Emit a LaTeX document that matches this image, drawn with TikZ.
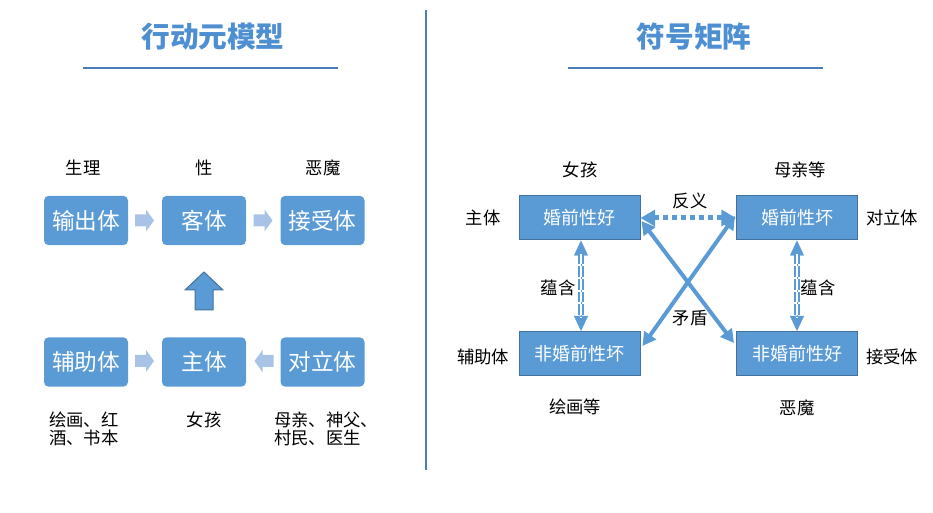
\documentclass[tikz,border=0pt]{standalone}
\usepackage{fontspec}
\setmainfont{Noto Sans CJK SC}
\usetikzlibrary{arrows.meta,calc}
\definecolor{boxblue}{HTML}{5B9BD5}
\definecolor{edgeblue}{HTML}{41719C}
\definecolor{paleblue}{HTML}{A9C3E7}
\definecolor{lineblue}{HTML}{4A7EBB}
\definecolor{titleblue}{HTML}{4E8FD2}
\begin{document}
\begin{tikzpicture}[x=0.75pt,y=-0.75pt,
  lbox/.style={rounded corners=3.5pt, fill=boxblue, text=white, minimum width=63pt, minimum height=37pt, inner sep=0pt, font=\fontsize{17}{17}\selectfont},
  rbox/.style={fill=boxblue, draw=edgeblue, line width=0.75pt, text=white, minimum width=90.75pt, minimum height=33pt, inner sep=0pt, font=\fontsize{13.5}{13.5}\selectfont},
  lbl/.style={inner sep=0pt, font=\fontsize{13}{13}\selectfont},
  lbltwo/.style={inner sep=0pt, align=left, font=\fontsize{13}{13.5}\selectfont},
  ttl/.style={inner sep=0pt, text=titleblue, font=\fontsize{21.5}{21.5}\selectfont\bfseries},
  rule/.style={draw=lineblue, line width=0.8pt},
  paleright/.pic={\fill[paleblue] (-10,-6) -- (1,-6) -- (1,-11) -- (9,0) -- (1,11) -- (1,6) -- (-10,6) -- cycle;},
  dotarrow/.style={draw=boxblue, line width=3.75pt, dash pattern=on 3.75pt off 3pt, {Triangle[length=11pt,width=12pt]}-{Triangle[length=11pt,width=12pt]}},
  diagarrow/.style={draw=boxblue, line width=3pt, {Triangle[length=10pt,width=10.5pt]}-{Triangle[length=10pt,width=10.5pt]}},
  tiponly/.style={draw=boxblue, line width=0.2pt, {Triangle[length=11.25pt 0 0,width=10.5pt 0 0]}-{Triangle[length=11.25pt 0 0,width=10.5pt 0 0]}},
  dblline/.style={draw=boxblue, line width=1.1pt, double=white, double distance=2pt, dash pattern=on 8pt off 1.5pt, shorten <=10pt, shorten >=10pt}
]
\useasboundingbox (0,0) rectangle (933,513);

% ---------- left panel ----------
\node[ttl] (t1) at (213,37) {行动元模型};
\coordinate (t1a) at (83,68);
\coordinate (t1b) at (338,68);
\draw[rule] (t1a) -- (t1b);

\node[lbox] (out) at (86,220.5) {输出体};
\node[lbox] (obj) at (204,220.5) {客体};
\node[lbox] (rec) at (322.5,220.5) {接受体};
\node[lbox] (aux) at (86,362) {辅助体};
\node[lbox] (sub) at (204,362) {主体};
\node[lbox] (opp) at (322.5,362) {对立体};

\pic at (145,220.5) {paleright};
\pic at (263.5,220.5) {paleright};
\pic at (145,361) {paleright};
\pic[xscale=-1] at (263.5,361) {paleright};

\filldraw[fill=boxblue, draw=edgeblue, line width=0.75pt]
  (195,310) -- (195,290) -- (185,290) -- (204,272) -- (223,290) -- (213,290) -- (213,310) -- cycle;

\node[lbl] (l1) at (83,168) {生理};
\node[lbl] (l2) at (204,168) {性};
\node[lbl] (l3) at (323,168) {恶魔};
\node[lbltwo] (l4) at (84,429) {绘画、红\\酒、书本};
\node[lbl] (l5) at (204,420) {女孩};
\node[lbltwo] (l6) at (326,429) {母亲、神父、\\村民、医生};

% separator
\coordinate (sepa) at (426,10);
\coordinate (sepb) at (426,470);
\draw[rule] (sepa) -- (sepb);

% ---------- right panel ----------
\node[ttl] (t2) at (694,37) {符号矩阵};
\coordinate (t2a) at (568,68);
\coordinate (t2b) at (823,68);
\draw[rule] (t2a) -- (t2b);

\node[rbox] (g1) at (579.5,218) {婚前性好};
\node[rbox] (b1) at (797,218) {婚前性坏};
\node[rbox] (b2) at (579.5,353.5) {非婚前性坏};
\node[rbox] (g2) at (797,353.5) {非婚前性好};

\node[lbl] (r1) at (483,218) {主体};
\node[lbl] (r2) at (892,218) {对立体};
\node[lbl] (r3) at (483,357) {辅助体};
\node[lbl] (r4) at (892,357) {接受体};
\node[lbl] (r5) at (580,170) {女孩};
\node[lbl] (r6) at (800,170) {母亲等};
\node[lbl] (r7) at (575,407) {绘画等};
\node[lbl] (r8) at (797,408) {恶魔};

\node[lbl] (fy) at (690,201) {反义};
\node[lbl] (md) at (690,318) {矛盾};
\node[lbl] (yh1) at (558,288) {蕴含};
\node[lbl] (yh2) at (818,288) {蕴含};

\draw[dotarrow] (g1.east) -- (b1.west);
\draw[diagarrow] ($(g1.east)+(1,3)$) -- ($(g2.west)+(-2,-10.5)$);
\draw[diagarrow] ($(b1.west)+(-1,-2)$) -- ($(b2.east)+(2,-7.5)$);

\draw[tiponly] ($(g1.south)+(1.5,0)$) -- ($(b2.north)+(1.5,0)$);
\draw[dblline] ($(g1.south)+(1.5,0)$) -- ($(b2.north)+(1.5,0)$);
\draw[tiponly] ($(b1.south)+(0,0)$) -- ($(g2.north)+(0,0)$);
\draw[dblline] ($(b1.south)+(0,0)$) -- ($(g2.north)+(0,0)$);
\end{tikzpicture}
\end{document}
